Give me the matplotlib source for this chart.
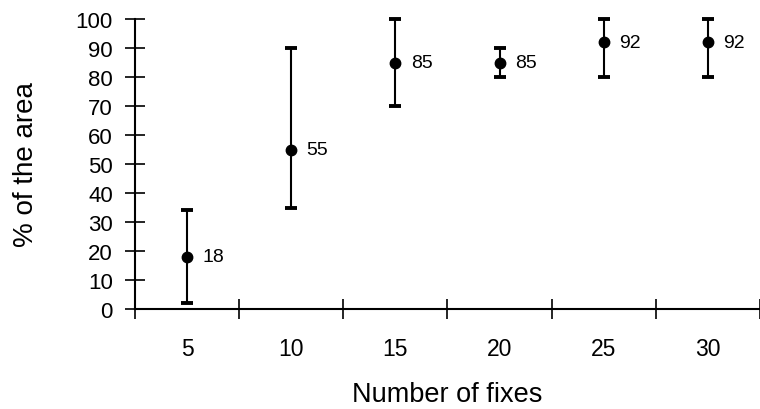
import matplotlib
matplotlib.use("Agg")
import matplotlib.pyplot as plt
import numpy as np

categories = ["5", "10", "15", "20", "25", "30"]
values = [18, 55, 85, 85, 92, 92]
lower = [2, 35, 70, 80, 80, 80]
upper = [34, 90, 100, 90, 100, 100]
labels = ["18", "55", "85", "85", "92", "92"]
yticks = list(range(0, 101, 10))

plt.rcParams['font.family'] = ['Liberation Sans', 'DejaVu Sans']

fig = plt.figure(figsize=(7.6, 4.1), dpi=100)
ax = fig.add_axes([135/760, 100/410, 1 - 135/760, 290/410])

x = np.arange(len(categories))
vals = np.array(values)
yerr = np.vstack([vals - np.array(lower), np.array(upper) - vals])
ax.errorbar(x, vals, yerr=yerr, fmt='o', color='black', ecolor='black',
            markersize=7.5, elinewidth=1.5, capsize=4.5, capthick=2.8,
            clip_on=False, zorder=3)
for xi, v, t in zip(x, vals, labels):
    ax.annotate(t, (xi, v), xytext=(11, 0), textcoords='offset points',
                ha='left', va='center', fontsize=14)

ax.set_xlim(-0.5, (760 - 135) / 106 - 0.5)
ax.set_ylim(0, 100)
ax.set_yticks(yticks)
ax.set_xticks(x)
ax.set_xticklabels(categories)
ax.set_xticks(np.arange(-0.5, len(categories) + 0.5, 1), minor=True)
ax.tick_params(axis='x', which='major', length=0, pad=20, labelsize=16.5)
ax.tick_params(axis='x', which='minor', direction='inout', length=14, width=1.2)
ax.tick_params(axis='y', which='major', direction='inout', length=14, width=1.2,
               pad=9, labelsize=16)
for s in ['top', 'right']:
    ax.spines[s].set_visible(False)
ax.spines['left'].set_linewidth(1.5)
ax.spines['bottom'].set_linewidth(1.5)

ax.set_ylabel("% of the area", fontsize=20, labelpad=26)
ax.set_xlabel("Number of fixes", fontsize=19.5, labelpad=15)

fig.savefig("out.png", dpi=100)
